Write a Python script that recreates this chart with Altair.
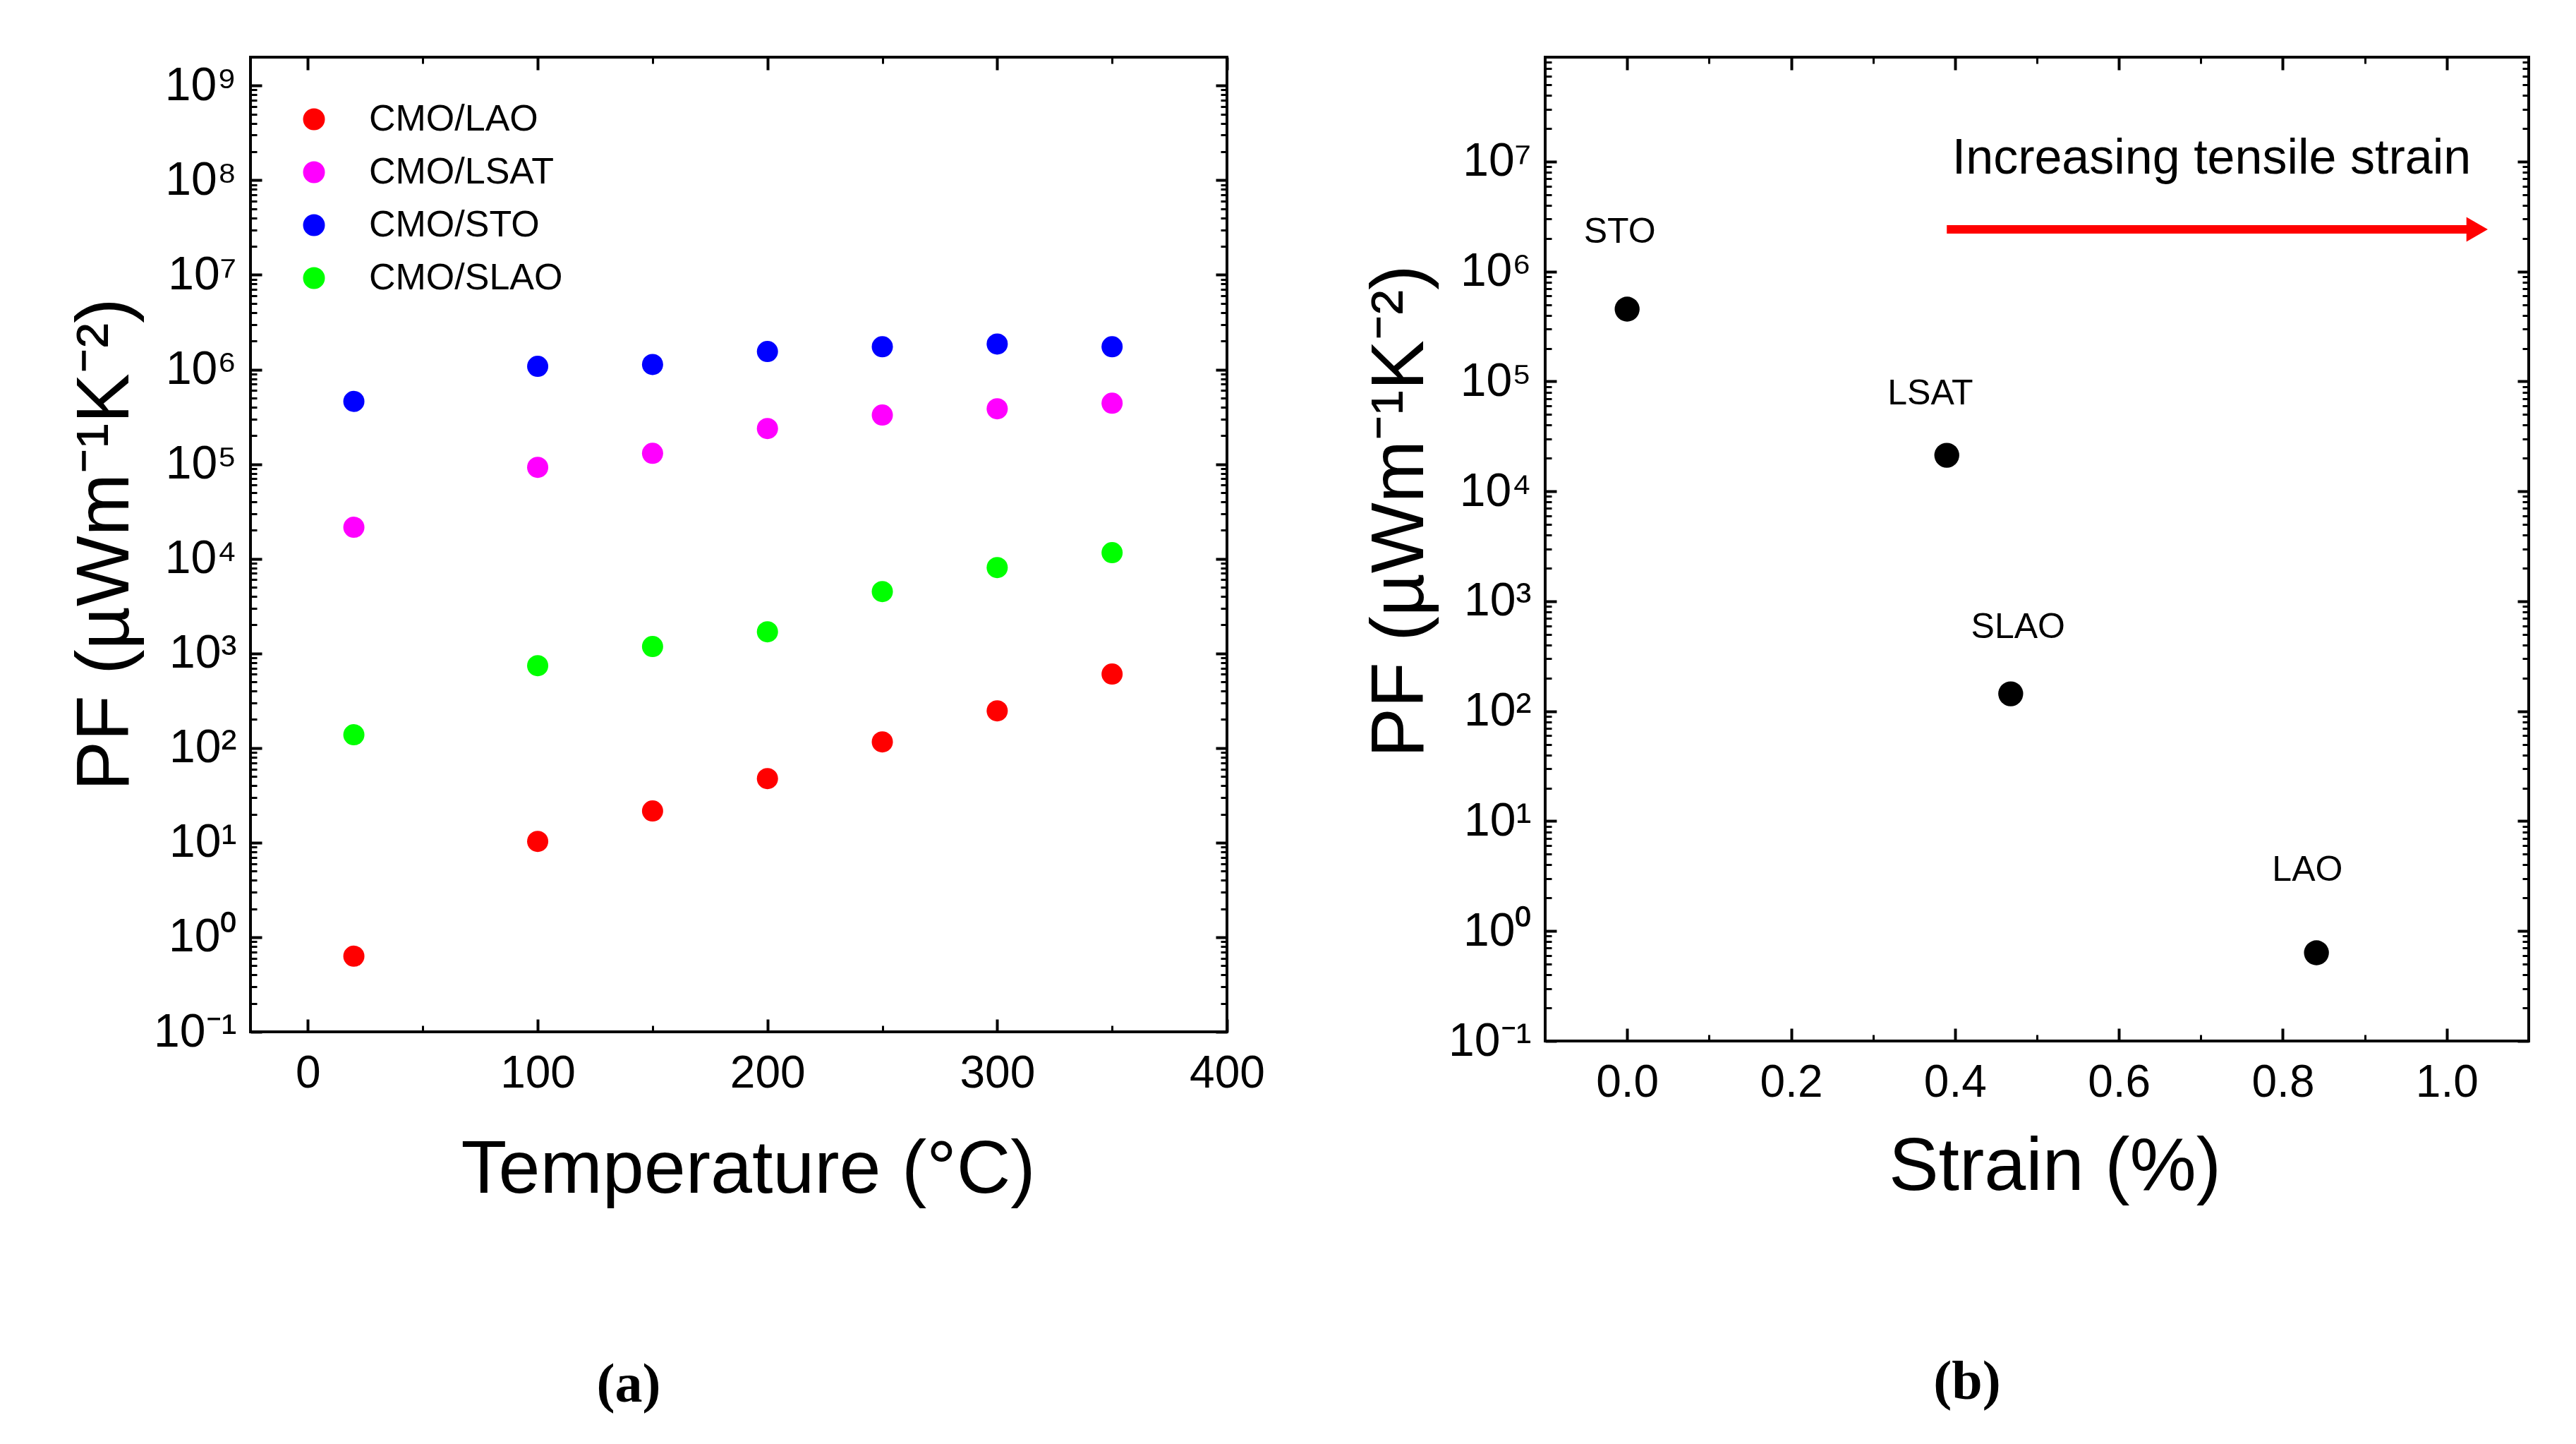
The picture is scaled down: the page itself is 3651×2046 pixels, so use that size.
import altair as alt
import pandas as pd

# panel (a): power factor against temperature
temps = [20, 100, 150, 200, 250, 300, 350]
pf_lao = [0.63, 10.3, 21.6, 47.5, 116, 247, 604]
pf_lsat = [2.15e4, 9.25e4, 1.30e5, 2.38e5, 3.3e5, 3.85e5, 4.4e5]
pf_sto = [4.6e5, 1.08e6, 1.13e6, 1.55e6, 1.74e6, 1.86e6, 1.74e6]
pf_slao = [138, 741, 1.18e3, 1.69e3, 4.5e3, 8.07e3, 1.16e4]
films = ["CMO/LAO", "CMO/LSAT", "CMO/STO", "CMO/SLAO"]
film_colors = ["#ff0000", "#ff00ff", "#0000ff", "#00ff00"]

# panel (b): power factor against strain
substrates = ["STO", "LSAT", "SLAO", "LAO"]
strain = [0.0, 0.39, 0.468, 0.841]
pf_strain = [4.55e5, 2.13e4, 144, 0.635]
label_x = [-0.009, 0.37, 0.477, 0.83]
label_y = [2.28e6, 7.7e4, 578, 3.58]
arrow_x = [0.39, 1.037]
arrow_y = 2.42e6
note_x = 0.713
note_y = 7.8e6
note = "Increasing tensile strain"

FONT = "Liberation Sans, Arial, sans-serif"
SERIF = "Liberation Serif, Times New Roman, serif"
SUP = ("'10' + ['\u207b\u00b9','\u2070','\u00b9','\u00b2','\u00b3','\u2074','\u2075',"
       "'\u2076','\u2077','\u2078','\u2079'][round(log(datum.value)/LN10) + 1]")
YTITLE = "PF (\u00b5Wm\u207b\u00b9K\u207b\u00b2)"


def tick_axis(orient, offset, values, size, width):
    return alt.Axis(orient=orient, offset=offset, values=values, tickSize=size,
                    tickWidth=width, tickColor="black", labels=False,
                    domain=False, grid=False, title=None)


def tick_layers(data, xf, yf, xscale, yscale, w, h, xmaj, xmin, ymaj, ymin):
    # inward ticks on all four sides: axes pushed across the plot with negative offsets
    specs = [
        ("top", xmaj, 18, 4, "right", ymaj, 16, 4),
        ("bottom", xmaj, 18, 4, "left", ymaj, 16, 4),
        ("top", xmin, 9, 3, "right", ymin, 9, 3),
        ("bottom", xmin, 9, 3, "left", ymin, 9, 3),
    ]
    layers = []
    for xo, xv, xs, xw, yo, yv, ys, yw in specs:
        layers.append(alt.Chart(data).mark_point(opacity=0).encode(
            x=alt.X(xf, scale=xscale, axis=tick_axis(xo, -h, xv, xs, xw)),
            y=alt.Y(yf, scale=yscale, axis=tick_axis(yo, -w, yv, ys, yw)),
        ))
    return layers


def x_axis(values, fmt, title, title_x, title_y):
    return alt.Axis(orient="bottom", values=values, format=fmt, ticks=False, domain=False,
                    grid=False, labelFont=FONT, labelFontSize=64, labelPadding=27,
                    labelFlush=False, labelOverlap=False, labelColor="black",
                    title=title, titleFont=FONT, titleFontSize=106, titleFontWeight="normal",
                    titleColor="black", titleX=title_x, titleY=title_y,
                    titleAlign="center", titleBaseline="alphabetic")


def y_axis(values, title_y):
    return alt.Axis(orient="left", values=values, labelExpr=SUP, ticks=False, domain=False,
                    grid=False, labelFont=FONT, labelFontSize=66, labelPadding=20,
                    labelFlush=False, labelOverlap=False, labelColor="black",
                    title=YTITLE, titleFont=FONT, titleFontSize=106, titleFontWeight="normal",
                    titleColor="black", titleAngle=270, titleX=-174, titleY=title_y,
                    titleAlign="center", titleBaseline="alphabetic")


def caption(text, dx):
    return alt.TitleParams(text, orient="bottom", anchor="middle", font=SERIF, fontSize=78,
                           fontWeight="bold", color="black", offset=214, dx=dx)


# ---------------- panel (a)
WA, HA = 1384, 1381
df_a = pd.DataFrame({
    "T": temps * 4,
    "PF": pf_lao + pf_lsat + pf_sto + pf_slao,
    "film": [f for f in films for _ in temps],
})
xs_a = alt.Scale(domain=[-25, 400], nice=False, zero=False)
ys_a = alt.Scale(type="log", domain=[0.1, 2e9], nice=False)
ymaj_a = [10.0 ** k for k in range(-1, 10)]
ymin_a = [m * 10.0 ** k for k in range(-1, 10) for m in range(2, 10) if m * 10.0 ** k <= 2e9]

pts_a = alt.Chart(df_a).mark_circle(size=900, opacity=1).encode(
    x=alt.X("T:Q", scale=xs_a, axis=x_axis([0, 100, 200, 300, 400], "d",
                                           "Temperature (\u00b0C)", 705, 227)),
    y=alt.Y("PF:Q", scale=ys_a, axis=y_axis(ymaj_a, 690)),
    color=alt.Color("film:N", scale=alt.Scale(domain=films, range=film_colors),
                    legend=alt.Legend(title=None, orient="none", legendX=64, legendY=62,
                                      labelFont=FONT, labelFontSize=52, labelColor="black",
                                      labelLimit=800, symbolType="circle", symbolSize=960,
                                      symbolStrokeWidth=0, rowPadding=23, labelOffset=52,
                                      padding=0)),
)

panel_a = alt.layer(
    pts_a,
    *tick_layers(df_a, "T:Q", "PF:Q", xs_a, ys_a, WA, HA,
                 [0, 100, 200, 300, 400], [50, 150, 250, 350], ymaj_a, ymin_a),
).resolve_axis(x="independent", y="independent").properties(
    width=WA, height=HA, title=caption("(a)", -156))

# ---------------- panel (b)
WB, HB = 1394, 1394
YMAX_B = 10 ** 7.95
df_b = pd.DataFrame({"strain": strain, "PF": pf_strain, "name": substrates,
                     "lx": label_x, "ly": label_y})
df_arrow = pd.DataFrame({"x": [arrow_x[0]], "x2": [arrow_x[1]], "y": [arrow_y]})
df_note = pd.DataFrame({"x": [note_x], "y": [note_y], "t": [note]})
xs_b = alt.Scale(domain=[-0.1, 1.1], nice=False, zero=False)
ys_b = alt.Scale(type="log", domain=[0.1, YMAX_B], nice=False)
xmaj_b = [0.0, 0.2, 0.4, 0.6, 0.8, 1.0]
xmin_b = [0.1, 0.3, 0.5, 0.7, 0.9]
ymaj_b = [10.0 ** k for k in range(-1, 8)]
ymin_b = [m * 10.0 ** k for k in range(-1, 8) for m in range(2, 10) if m * 10.0 ** k <= YMAX_B]

pts_b = alt.Chart(df_b).mark_circle(size=1250, color="black", opacity=1).encode(
    x=alt.X("strain:Q", scale=xs_b, axis=x_axis(xmaj_b, ".1f", "Strain (%)", 722, 210)),
    y=alt.Y("PF:Q", scale=ys_b, axis=y_axis(ymaj_b, 643)),
)
names_b = alt.Chart(df_b).mark_text(font=FONT, fontSize=50, color="black",
                                    align="center", baseline="middle").encode(
    x=alt.X("lx:Q", scale=xs_b, axis=None),
    y=alt.Y("ly:Q", scale=ys_b, axis=None),
    text="name:N",
)
arrow_line = alt.Chart(df_arrow).mark_rule(color="#ff0000", strokeWidth=12).encode(
    x=alt.X("x:Q", scale=xs_b, axis=None),
    x2="x2:Q",
    y=alt.Y("y:Q", scale=ys_b, axis=None),
)
arrow_head = alt.Chart(df_arrow).mark_point(shape="triangle-right", filled=True, size=1225,
                                            color="#ff0000", opacity=1).encode(
    x=alt.X("x2:Q", scale=xs_b, axis=None),
    y=alt.Y("y:Q", scale=ys_b, axis=None),
)
note_b = alt.Chart(df_note).mark_text(font=FONT, fontSize=70, color="black",
                                      align="center", baseline="alphabetic").encode(
    x=alt.X("x:Q", scale=xs_b, axis=None),
    y=alt.Y("y:Q", scale=ys_b, axis=None),
    text="t:N",
)

panel_b = alt.layer(
    pts_b, names_b, arrow_line, arrow_head, note_b,
    *tick_layers(df_b, "strain:Q", "PF:Q", xs_b, ys_b, WB, HB, xmaj_b, xmin_b, ymaj_b, ymin_b),
).resolve_axis(x="independent", y="independent").properties(
    width=WB, height=HB, title=caption("(b)", -99))

chart = alt.hconcat(panel_a, panel_b, spacing=451, bounds="flush").properties(
    padding={"left": 86, "top": 69, "right": 10, "bottom": 20},
).configure_view(stroke="black", strokeWidth=4)

chart.save("out.html", embed_options={"renderer": "svg", "actions": False})
